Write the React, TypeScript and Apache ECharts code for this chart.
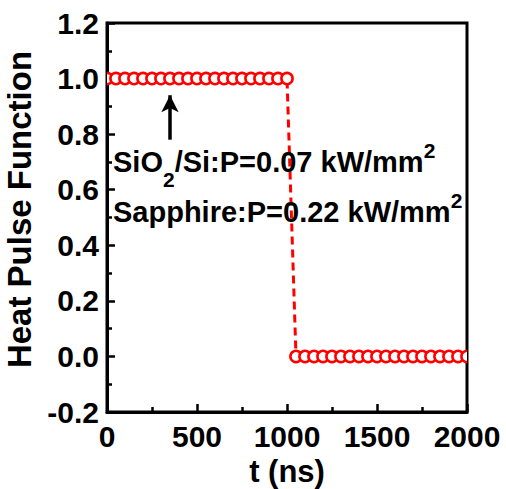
import React, { useEffect, useRef } from "react";
import * as echarts from "echarts";

// Heat pulse samples (t in ns, value)
const highTimes = [0, 50, 100, 150, 200, 250, 300, 350, 400, 450, 500, 550, 600, 650, 700, 750, 800, 850, 900, 950, 1000];
const highValues = [1, 1, 1, 1, 1, 1, 1, 1, 1, 1, 1, 1, 1, 1, 1, 1, 1, 1, 1, 1, 1];
const lowTimes = [1050, 1100, 1150, 1200, 1250, 1300, 1350, 1400, 1450, 1500, 1550, 1600, 1650, 1700, 1750, 1800, 1850, 1900, 1950, 2000];
const lowValues = [0, 0, 0, 0, 0, 0, 0, 0, 0, 0, 0, 0, 0, 0, 0, 0, 0, 0, 0, 0];

// axis settings
const xTicks = { min: 0, max: 2000, interval: 500 };
const yTicks = { min: -0.2, max: 1.2, interval: 0.2 };

// arrow annotation (data coordinates)
const arrowT = 350;
const arrowTail = 0.78;
const arrowTip = 0.94;

const FONT = "'Liberation Sans', Arial, Helvetica, sans-serif";

export default function App() {
  const ref = useRef<HTMLDivElement>(null);
  useEffect(() => {
    if (!ref.current) return;
    const chart = echarts.init(ref.current, null, { renderer: "svg" });
    const pts: number[][] = [];
    highTimes.forEach((t, i) => pts.push([t, highValues[i]]));
    lowTimes.forEach((t, i) => pts.push([t, lowValues[i]]));

    const axisCommon = {
      axisLine: { show: true, onZero: false, lineStyle: { color: "#000", width: 3 } },
      axisTick: { show: true, inside: true, length: 8, lineStyle: { color: "#000", width: 2.5 } },
      minorTick: { show: true, splitNumber: 2, length: 5, lineStyle: { color: "#000", width: 2.5 } },
      splitLine: { show: false },
      minorSplitLine: { show: false },
      axisLabel: { color: "#000", fontSize: 30, fontWeight: "bold", fontFamily: FONT },
      nameLocation: "middle",
    };

    chart.setOption({
      animation: false,
      backgroundColor: "#fff",
      grid: {
        left: 107,
        right: 39,
        top: 23,
        bottom: 77,
        show: true,
        borderColor: "#000",
        borderWidth: 3,
        containLabel: false,
        outerBoundsMode: "none",
      },
      xAxis: {
        type: "value",
        ...axisCommon,
        min: xTicks.min,
        max: xTicks.max,
        interval: xTicks.interval,
        name: "t (ns)",
        nameGap: 38,
        nameTextStyle: { color: "#000", fontSize: 31, fontWeight: "bold", fontFamily: FONT, lineHeight: 31 },
        axisLabel: { ...axisCommon.axisLabel, margin: 9, formatter: (v: number) => String(v) },
      },
      yAxis: {
        type: "value",
        ...axisCommon,
        min: yTicks.min,
        max: yTicks.max,
        interval: yTicks.interval,
        name: "Heat Pulse Function",
        nameGap: 60,
        nameTextStyle: { color: "#000", fontSize: 33, fontWeight: "bold", fontFamily: FONT, padding: [0, 0, 0, 16] },
        axisLabel: {
          ...axisCommon.axisLabel,
          margin: 8,
          formatter: (v: number) => v.toFixed(1),
        },
      },
      series: [
        {
          type: "line",
          data: pts,
          symbol: "none",
          z: 2,
          lineStyle: { color: "#ff0000", width: 3, type: [8, 5] },
          markLine: {
            silent: true,
            symbol: ["none", "arrow"],
            symbolSize: [13, 17],
            lineStyle: { color: "#000", width: 3.5, type: "solid" },
            label: { show: false },
            data: [[{ coord: [arrowT, arrowTail] }, { coord: [arrowT, arrowTip] }]],
          },
        },
        {
          type: "custom",
          data: pts,
          clip: true,
          z: 3,
          encode: { x: 0, y: 1 },
          renderItem: (_params: any, api: any) => {
            const p = api.coord([api.value(0), api.value(1)]);
            return {
              type: "circle",
              shape: { cx: p[0], cy: p[1], r: 5.6 },
              style: { fill: "#fff", stroke: "#ff0000", lineWidth: 2.6 },
            };
          },
        },
      ],
      graphic: [
        {
          type: "text",
          left: 113,
          top: 140,
          z: 10,
          style: {
            text: "{a|SiO}{sub|2}{a|/Si:P=0.07 kW/mm}{sup|2}",
            rich: {
              a: { fontSize: 29, fontWeight: "bold", fontFamily: FONT, fill: "#000", lineHeight: 32 },
              sub: { fontSize: 21, fontWeight: "bold", fontFamily: FONT, fill: "#000", lineHeight: 10, verticalAlign: "bottom", padding: [0, 0, -12, 0] },
              sup: { fontSize: 21, fontWeight: "bold", fontFamily: FONT, fill: "#000", lineHeight: 16, verticalAlign: "top", padding: [-6, 0, 0, 0] },
            },
          },
        },
        {
          type: "text",
          left: 113,
          top: 190,
          z: 10,
          style: {
            text: "{a|Sapphire:P=0.22 kW/mm}{sup|2}",
            rich: {
              a: { fontSize: 29, fontWeight: "bold", fontFamily: FONT, fill: "#000", lineHeight: 32 },
              sup: { fontSize: 21, fontWeight: "bold", fontFamily: FONT, fill: "#000", lineHeight: 16, verticalAlign: "top", padding: [-6, 0, 0, 0] },
            },
          },
        },
      ],
    });
    return () => chart.dispose();
  }, []);
  return <div ref={ref} style={{ width: 506, height: 489, position: "absolute", left: 0, top: 0 }} />;
}
